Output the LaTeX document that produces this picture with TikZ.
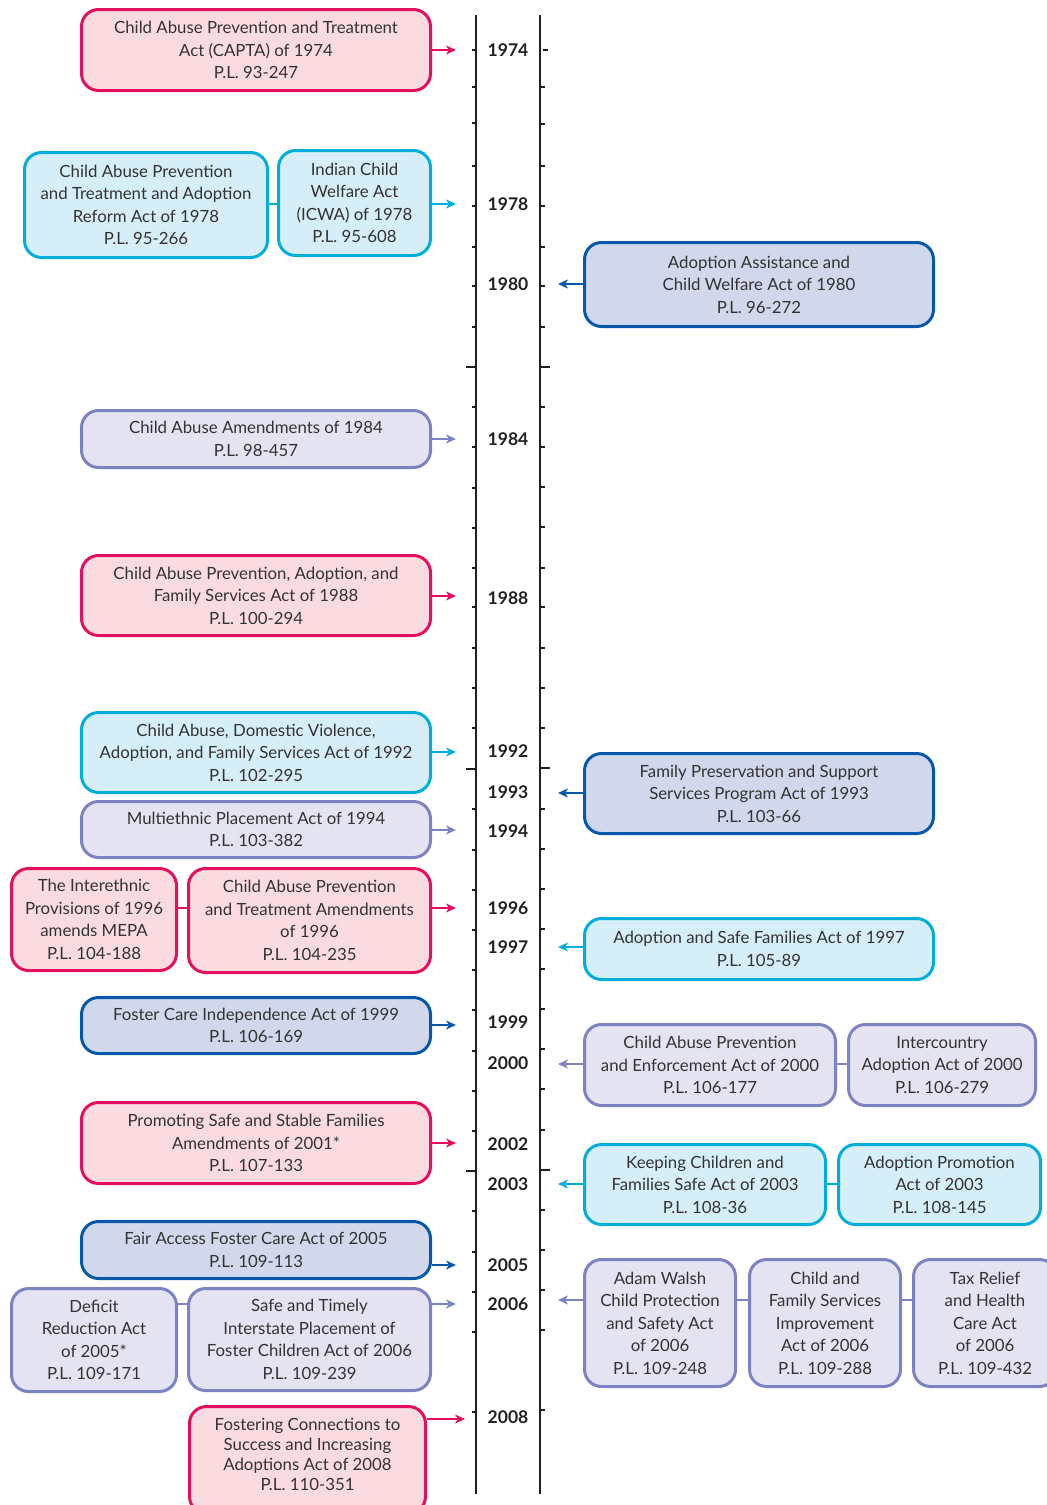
\documentclass[tikz,border=0pt]{standalone}
\usepackage{fontspec}
\setmainfont{Lato}
\usetikzlibrary{arrows.meta}
\definecolor{pinkD}{HTML}{E4105F}
\definecolor{pinkL}{HTML}{FADCE0}
\definecolor{cyanD}{HTML}{00AEDB}
\definecolor{cyanL}{HTML}{D6EEF8}
\definecolor{navyD}{HTML}{0758A8}
\definecolor{navyL}{HTML}{D2D8EC}
\definecolor{periD}{HTML}{7D82C2}
\definecolor{periL}{HTML}{E3E3F1}
\definecolor{txt}{HTML}{333333}
\definecolor{ink}{HTML}{231F20}
\newcommand\bxfont{\fontsize{16.8}{22.5}\selectfont}
\newcommand\bxfonttight{\fontsize{16.8}{20}\selectfont}
\newcommand\yrfnt{\fontsize{17.5}{20}\selectfont\bfseries}
\tikzset{
  box/.style={rounded corners=17pt, line width=3pt, align=center, inner sep=0pt, font=\bxfont, text=txt},
  pinkb/.style={box, draw=pinkD, fill=pinkL},
  cyanb/.style={box, draw=cyanD, fill=cyanL},
  navyb/.style={box, draw=navyD, fill=navyL},
  perib/.style={box, draw=periD, fill=periL},
  yr/.style={font=\yrfnt, text=ink, inner sep=0pt},
  arr/.style={line width=2pt, -{Stealth[length=10pt,width=9pt,inset=3pt]}},
  link/.style={line width=2.5pt},
  tline/.style={line width=1.6pt, draw=ink},
  tick/.style={line width=1.3pt, draw=ink},
}
\begin{document}
\begin{tikzpicture}[x=1pt,y=-1pt]
\path[use as bounding box] (0,0) rectangle (1047,1505);
\clip (0,0) rectangle (1047,1505);

% timeline
\draw[tline] (476,15) -- (476,1494);
\draw[tline] (540,15) -- (540,1494);
\foreach \t in {50,87,123,166,206,247,286,327,407,447,488,528,568,607,648,688,728,809,850,890,930,970,1010,1051,1091,1131,1211,1252,1292,1332,1412}
  \draw[tick] (476,\t) -- ++(-4.5,0);
\foreach \t in {367,769,1171}
  \draw[tick] (476,\t) -- ++(-10,0);
\foreach \t in {87,124,166,206,247,286,327,407,447,487,527,568,607,648,688,728,809,849,889,929,969,1009,1049,1089,1130,1210,1250,1290,1330,1410}
  \draw[tick] (540,\t) -- ++(5,0);
\foreach \t in {367,768,1170}
  \draw[tick] (540,\t) -- ++(10,0);
\draw[tick] (543,50) -- (548,50);

% year labels
\node[yr] (y1974) at (508,50) {1974};
\node[yr] (y1978) at (508,204) {1978};
\node[yr] (y1980) at (508,284) {1980};
\node[yr] (y1984) at (508,439) {1984};
\node[yr] (y1988) at (508,598) {1988};
\node[yr] (y1992) at (508,751) {1992};
\node[yr] (y1993) at (508,792) {1993};
\node[yr] (y1994) at (508,831) {1994};
\node[yr] (y1996) at (508,908) {1996};
\node[yr] (y1997) at (508,947) {1997};
\node[yr] (y1999) at (508,1022) {1999};
\node[yr] (y2000) at (508,1063) {2000};
\node[yr] (y2002) at (508,1144) {2002};
\node[yr] (y2003) at (508,1184) {2003};
\node[yr] (y2005) at (508,1265) {2005};
\node[yr] (y2006) at (508,1304) {2006};
\node[yr] (y2008) at (508,1417) {2008};

% arrow end coordinates
\coordinate (a1974) at (456,50);
\coordinate (a1978) at (456,204);
\coordinate (b1980) at (558,284);
\coordinate (a1984) at (456,439);
\coordinate (a1988) at (456,596);
\coordinate (a1992) at (456,752);
\coordinate (b1993) at (558,793);
\coordinate (a1994) at (456,830);
\coordinate (a1996) at (456,908);
\coordinate (b1997) at (558,947);
\coordinate (a1999) at (456,1025);
\coordinate (b2000) at (558,1064);
\coordinate (a2002) at (456,1143);
\coordinate (b2003) at (558,1184);
\coordinate (a2005) at (456,1265);
\coordinate (a2006) at (456,1304);
\coordinate (b2006) at (558,1300);
\coordinate (a2008) at (465,1419);

% left boxes
\node[pinkb, minimum width=349pt, minimum height=81pt] (capta) at (256,50) {Child Abuse Prevention and Treatment\\Act (CAPTA) of 1974\\P.L. 93-247};
\node[cyanb, minimum width=243pt, minimum height=105pt] (reform78) at (146,205) {Child Abuse Prevention\\and Treatment and Adoption\\Reform Act of 1978\\P.L. 95-266};
\node[cyanb, minimum width=152pt, minimum height=105pt] (icwa) at (354.5,203) {Indian Child\\Welfare Act\\(ICWA) of 1978\\P.L. 95-608};
\node[perib, minimum width=349pt, minimum height=57pt] (amend84) at (256,439) {Child Abuse Amendments of 1984\\P.L. 98-457};
\node[pinkb, minimum width=349pt, minimum height=80pt] (capa88) at (256,595.5) {Child Abuse Prevention, Adoption, and\\Family Services Act of 1988\\P.L. 100-294};
\node[cyanb, minimum width=349pt, minimum height=80pt] (cadv92) at (256,752.5) {Child Abuse, Domestic Violence,\\Adoption, and Family Services Act of 1992\\P.L. 102-295};
\node[perib, minimum width=349pt, minimum height=56pt] (mepa94) at (256,829.5) {Multiethnic Placement Act of 1994\\P.L. 103-382};
\node[pinkb, minimum width=165pt, minimum height=102pt] (iep96) at (94,919.5) {The Interethnic\\Provisions of 1996\\amends MEPA\\P.L. 104-188};
\node[pinkb, minimum width=242pt, minimum height=104pt] (capta96) at (309.5,920.5) {Child Abuse Prevention\\and Treatment Amendments\\of 1996\\P.L. 104-235};
\node[navyb, minimum width=349pt, minimum height=56pt] (fcia99) at (256,1025.5) {Foster Care Independence Act of 1999\\P.L. 106-169};
\node[pinkb, minimum width=349pt, minimum height=81pt] (pssf01) at (256,1143) {Promoting Safe and Stable Families\\Amendments of 2001*\\P.L. 107-133};
\node[navyb, minimum width=349pt, minimum height=57pt] (fafc05) at (256,1250) {Fair Access Foster Care Act of 2005\\P.L. 109-113};
\node[perib, minimum width=165pt, minimum height=103pt] (dra05) at (94,1340) {Deficit\\Reduction Act\\of 2005*\\P.L. 109-171};
\node[perib, minimum width=242pt, minimum height=102pt] (stip06) at (309.5,1339.5) {Safe and Timely\\Interstate Placement of\\Foster Children Act of 2006\\P.L. 109-239};
\node[pinkb, minimum width=236pt, minimum height=107pt] (fcsia08) at (307.5,1460) {};
\node[font=\bxfonttight, text=txt, align=center, inner sep=0pt] (fcsia08t) at (307.5,1454) {Fostering Connections to\\Success and Increasing\\Adoptions Act of 2008\\P.L. 110-351};

% right boxes
\node[navyb, minimum width=349pt, minimum height=84pt] (aacwa80) at (759,284.5) {Adoption Assistance and\\Child Welfare Act of 1980\\P.L. 96-272};
\node[navyb, minimum width=349pt, minimum height=80pt] (fpsp93) at (759,793.5) {Family Preservation and Support\\Services Program Act of 1993\\P.L. 103-66};
\node[cyanb, minimum width=349pt, minimum height=61pt] (asfa97) at (759,949) {Adoption and Safe Families Act of 1997\\P.L. 105-89};
\node[perib, minimum width=251pt, minimum height=81pt] (capea00) at (710,1065) {Child Abuse Prevention\\and Enforcement Act of 2000\\P.L. 106-177};
\node[perib, minimum width=187pt, minimum height=81pt] (icaa00) at (942,1065) {Intercountry\\Adoption Act of 2000\\P.L. 106-279};
\node[cyanb, minimum width=241pt, minimum height=80pt] (kcfs03) at (705,1184.5) {Keeping Children and\\Families Safe Act of 2003\\P.L. 108-36};
\node[cyanb, minimum width=202pt, minimum height=80pt] (apa03) at (939.5,1184.5) {Adoption Promotion\\Act of 2003\\P.L. 108-145};
\node[perib, minimum width=151pt, minimum height=127pt] (awcp06) at (660,1323) {Adam Walsh\\Child Protection\\and Safety Act\\of 2006\\P.L. 109-248};
\node[perib, minimum width=151pt, minimum height=127pt] (cfsi06) at (825,1323) {Child and\\Family Services\\Improvement\\Act of 2006\\P.L. 109-288};
\node[perib, minimum width=143pt, minimum height=127pt] (trhc06) at (985,1323) {Tax Relief\\and Health\\Care Act\\of 2006\\P.L. 109-432};

% links between paired boxes
\draw[link, cyanD] (reform78.east |- a1978) -- (icwa.west |- a1978);
\draw[link, pinkD] (iep96.east |- a1996) -- (capta96.west |- a1996);
\draw[link, periD] (dra05.east |- a2006) -- (stip06.west |- a2006);
\draw[link, periD] (capea00.east |- b2000) -- (icaa00.west |- b2000);
\draw[link, cyanD] (kcfs03.east |- b2003) -- (apa03.west |- b2003);
\draw[link, periD] (awcp06.east |- b2006) -- (cfsi06.west |- b2006);
\draw[link, periD] (cfsi06.east |- b2006) -- (trhc06.west |- b2006);

% arrows to timeline
\draw[arr, pinkD] (capta.east |- a1974) -- (a1974);
\draw[arr, cyanD] (icwa.east |- a1978) -- (a1978);
\draw[arr, navyD] (aacwa80.west |- b1980) -- (b1980);
\draw[arr, periD] (amend84.east |- a1984) -- (a1984);
\draw[arr, pinkD] (capa88.east |- a1988) -- (a1988);
\draw[arr, cyanD] (cadv92.east |- a1992) -- (a1992);
\draw[arr, navyD] (fpsp93.west |- b1993) -- (b1993);
\draw[arr, periD] (mepa94.east |- a1994) -- (a1994);
\draw[arr, pinkD] (capta96.east |- a1996) -- (a1996);
\draw[arr, cyanD] (asfa97.west |- b1997) -- (b1997);
\draw[arr, navyD] (fcia99.east |- a1999) -- (a1999);
\draw[arr, periD] (capea00.west |- b2000) -- (b2000);
\draw[arr, pinkD] (pssf01.east |- a2002) -- (a2002);
\draw[arr, cyanD] (kcfs03.west |- b2003) -- (b2003);
\draw[arr, navyD] (fafc05.east |- a2005) -- (a2005);
\draw[arr, periD] (stip06.east |- a2006) -- (a2006);
\draw[arr, periD] (awcp06.west |- b2006) -- (b2006);
\draw[arr, pinkD] (fcsia08.east |- a2008) -- (a2008);
\end{tikzpicture}
\end{document}
